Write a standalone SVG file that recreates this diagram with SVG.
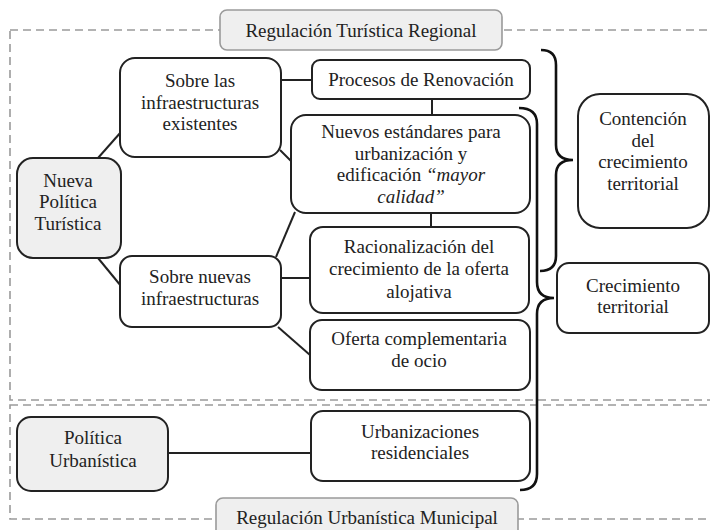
<svg xmlns="http://www.w3.org/2000/svg" width="710" height="530" viewBox="0 0 710 530">
<style>
.zone{fill:none;stroke:#9a9a9a;stroke-width:1.6;stroke-dasharray:8,5}
.tag{fill:#efefef;stroke:#9a9a9a;stroke-width:1.6}
.box{fill:#fff;stroke:#222;stroke-width:2}
.gbox{fill:#efefef;stroke:#222;stroke-width:2}
.ln{stroke:#222;stroke-width:2;fill:none}
.brace{stroke:#111;stroke-width:2.6;fill:none}
text{font-family:"Liberation Serif","Times New Roman",serif;font-size:19px;fill:#222;text-anchor:middle}
.it{font-style:italic}
</style>
<rect width="710" height="530" fill="#fff"/>
<g id="zones">
<rect class="zone" x="10" y="30" width="720" height="370"/>
<rect class="zone" x="10" y="405" width="720" height="114"/>
</g>
<g id="regulacion-turistica">
<rect class="tag" x="220" y="10" width="282" height="40" rx="7"/>
<text x="361" y="37">Regulación Turística Regional</text>
</g>
<g id="regulacion-urbanistica">
<rect class="tag" x="216" y="498" width="302" height="45" rx="7"/>
<text x="367" y="524">Regulación Urbanística Municipal</text>
</g>
<g id="connectors">
<line class="ln" x1="98" y1="158" x2="121" y2="132"/>
<line class="ln" x1="98" y1="258" x2="121" y2="286"/>
<line class="ln" x1="281" y1="80" x2="312" y2="80"/>
<line class="ln" x1="280" y1="150" x2="292" y2="162"/>
<line class="ln" x1="432" y1="99" x2="432" y2="115"/>
<line class="ln" x1="431" y1="213" x2="431" y2="227"/>
<line class="ln" x1="276" y1="257" x2="295" y2="212"/>
<line class="ln" x1="281" y1="278" x2="310" y2="278"/>
<line class="ln" x1="278" y1="327" x2="310" y2="355"/>
<line class="ln" x1="168" y1="453" x2="311" y2="453"/>
</g>
<g id="braces">
<path class="brace" d="M541,50 Q556,50 556,65 L556,145 Q556,160 573,160 Q556,160 556,175 L556,256 Q556,271 540,271"/>
<path class="brace" d="M519,108 Q537,108 537,124 L537,282 Q537,298 554,298 Q537,298 537,314 L537,474 Q537,490 520,490"/>
</g>
<g id="nueva-politica-turistica">
<rect class="gbox" x="17" y="158" width="104" height="100" rx="16"/>
<text x="68" y="187">Nueva</text>
<text x="68" y="208">Política</text>
<text x="68" y="230">Turística</text>
</g>
<g id="sobre-existentes">
<rect class="box" x="120" y="58" width="161" height="99" rx="15"/>
<text x="200" y="87">Sobre las</text>
<text x="200" y="109">infraestructuras</text>
<text x="200" y="130">existentes</text>
</g>
<g id="sobre-nuevas">
<rect class="box" x="120" y="256" width="161" height="71" rx="12"/>
<text x="200" y="283">Sobre nuevas</text>
<text x="200" y="305">infraestructuras</text>
</g>
<g id="procesos-renovacion">
<rect class="box" x="312" y="60" width="218" height="39" rx="8"/>
<text x="421" y="86">Procesos de Renovación</text>
</g>
<g id="nuevos-estandares">
<rect class="box" x="291" y="115" width="239" height="98" rx="15"/>
<text x="411" y="138">Nuevos estándares para</text>
<text x="411" y="160">urbanización y</text>
<text x="411" y="181">edificación <tspan class="it">“mayor</tspan></text>
<text x="411" y="203" class="it">calidad”</text>
</g>
<g id="racionalizacion">
<rect class="box" x="310" y="227" width="219" height="86" rx="13"/>
<text x="419" y="253">Racionalización del</text>
<text x="419" y="275">crecimiento de la oferta</text>
<text x="419" y="298">alojativa</text>
</g>
<g id="oferta-complementaria">
<rect class="box" x="310" y="320" width="220" height="70" rx="12"/>
<text x="419" y="345">Oferta complementaria</text>
<text x="419" y="367">de ocio</text>
</g>
<g id="politica-urbanistica">
<rect class="gbox" x="17" y="417" width="151" height="74" rx="14"/>
<text x="93" y="444">Política</text>
<text x="93" y="467">Urbanística</text>
</g>
<g id="urbanizaciones">
<rect class="box" x="311" y="411" width="219" height="70" rx="12"/>
<text x="420" y="438">Urbanizaciones</text>
<text x="420" y="459">residenciales</text>
</g>
<g id="contencion">
<rect class="box" x="578" y="94" width="131" height="134" rx="22"/>
<text x="643" y="125">Contención</text>
<text x="643" y="147">del</text>
<text x="643" y="168">crecimiento</text>
<text x="643" y="190">territorial</text>
</g>
<g id="crecimiento">
<rect class="box" x="557" y="263" width="152" height="70" rx="12"/>
<text x="633" y="292">Crecimiento</text>
<text x="633" y="313">territorial</text>
</g>
</svg>
